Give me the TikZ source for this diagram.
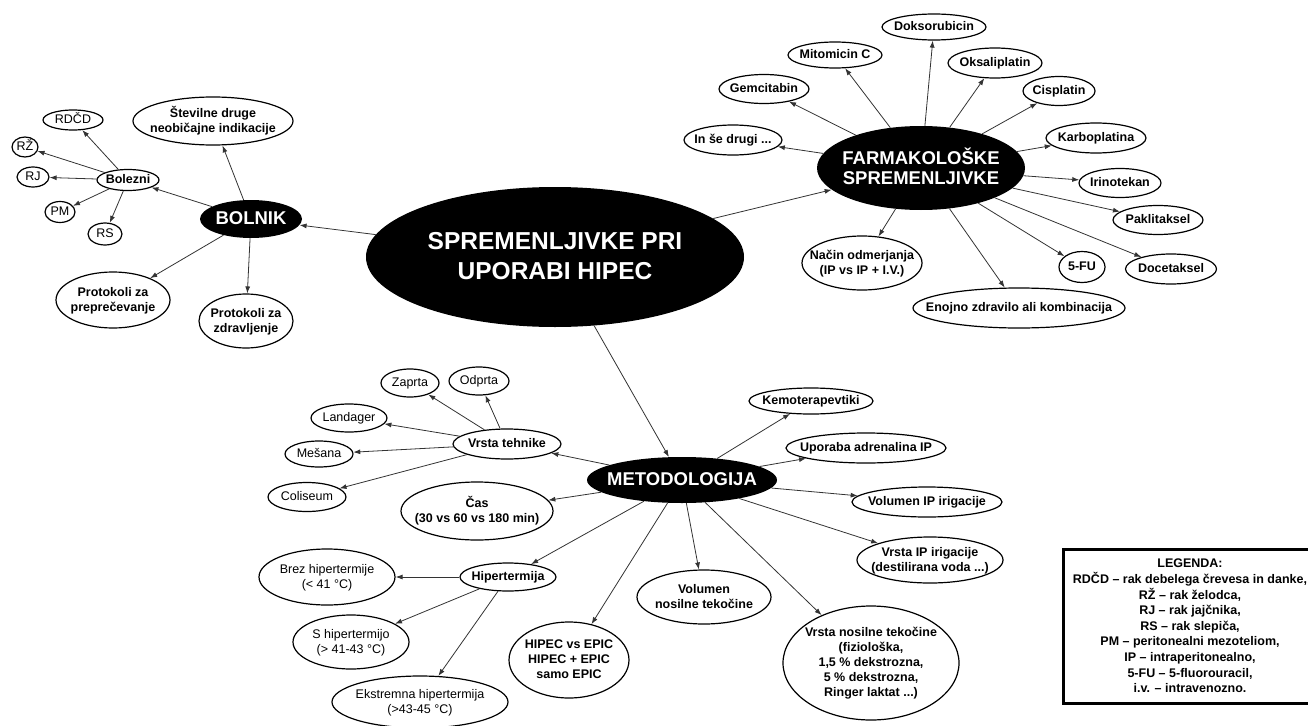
\documentclass[tikz,border=0pt]{standalone}
\usepackage{fontspec}
\setmainfont{Liberation Sans}
\usetikzlibrary{shapes,arrows.meta}

\tikzset{
  every node/.style={font=\fontsize{12.5}{15}\selectfont},
  b/.style={font=\fontsize{12.5}{15}\selectfont\bfseries},
  oval/.style 2 args={ellipse, draw, line width=1.2pt, minimum width=#1pt,
    minimum height=#2pt, inner sep=0pt},
  hub/.style 2 args={ellipse, fill=black, text=white, minimum width=#1pt,
    minimum height=#2pt, inner sep=0pt},
  link/.style={draw=black!80, line width=0.8pt, -{Latex[length=7pt,width=5pt]}},
}

\begin{document}
\begin{tikzpicture}[x=1pt,y=-1pt]
    \def\lbl#1{\makebox[0pt]{\raisebox{-0.3em}[0pt][0pt]{\begin{tabular}{@{}c@{}}#1\end{tabular}}}}
    \useasboundingbox (0,0) rectangle (1308,725);
    \clip (0,0) rectangle (1308,725);
    % Centre and the three hubs
    \node[hub={378}{140}, font=\fontsize{24.5}{30}\selectfont\bfseries] (hipec) at (555,257)
      {\lbl{SPREMENLJIVKE PRI\\UPORABI HIPEC}};
    \node[hub={102}{38}, font=\fontsize{18.5}{20}\selectfont\bfseries] (bolnik) at (251,219) {\lbl{BOLNIK}};
    \node[hub={208}{84}, font=\fontsize{18.5}{20}\selectfont\bfseries] (farma) at (921,168)
      {\lbl{FARMAKOLOŠKE\\SPREMENLJIVKE}};
    \node[hub={190}{46}, font=\fontsize{18.5}{20}\selectfont\bfseries] (metod) at (682,480) {\lbl{METODOLOGIJA}};
    % Bolnik
    \node[oval={62}{21}, b] (bolezni) at (128,180) {\lbl{Bolezni}};
    \node[oval={60}{20}] (rdcd) at (73,120) {\lbl{RDČD}};
    \node[oval={26}{20}] (rz) at (25,147) {\lbl{RŽ}};
    \node[oval={32}{20}] (rj) at (33,177) {\lbl{RJ}};
    \node[oval={30}{21}] (pm) at (60,212) {\lbl{PM}};
    \node[oval={34}{22}] (rs) at (105,234) {\lbl{RS}};
    \node[oval={160}{48}, b] (stevilne) at (213,121) {\lbl{Številne druge\\neobičajne indikacije}};
    \node[oval={114}{56}, b] (preprec) at (113,300) {\lbl{Protokoli za\\preprečevanje}};
    \node[oval={94}{54}, b] (zdrav) at (246,321) {\lbl{Protokoli za\\zdravljenje}};
    % Farmakoloske spremenljivke
    \node[oval={98}{30}, b] (drugi) at (733,140) {\lbl{In še drugi ...}};
    \node[oval={90}{29}, b] (gemc) at (764,89) {\lbl{Gemcitabin}};
    \node[oval={94}{26}, b] (mito) at (835,55) {\lbl{Mitomicin C}};
    \node[oval={104}{26}, b] (doks) at (934,27) {\lbl{Doksorubicin}};
    \node[oval={94}{30}, b] (oksa) at (995,63) {\lbl{Oksaliplatin}};
    \node[oval={72}{29}, b] (cispl) at (1059,91) {\lbl{Cisplatin}};
    \node[oval={100}{30}, b] (karbo) at (1096,138) {\lbl{Karboplatina}};
    \node[oval={82}{29}, b] (irino) at (1120,183) {\lbl{Irinotekan}};
    \node[oval={90}{29}, b] (pakli) at (1158,220) {\lbl{Paklitaksel}};
    \node[oval={46}{31}, b] (fu) at (1082,267) {\lbl{5-FU}};
    \node[oval={91}{30}, b] (doce) at (1171,269) {\lbl{Docetaksel}};
    \node[oval={120}{54}, b] (nacin) at (862,263) {\lbl{Način odmerjanja\\(IP vs IP + I.V.)}};
    \node[oval={212}{40}, b] (enojno) at (1019,308) {\lbl{Enojno zdravilo ali kombinacija}};
    % Metodologija
    \node[oval={124}{26}, b] (kemo) at (811,401) {\lbl{Kemoterapevtiki}};
    \node[oval={160}{30}, b] (adren) at (866,448) {\lbl{Uporaba adrenalina IP}};
    \node[oval={150}{30}, b] (volip) at (927,502) {\lbl{Volumen IP irigacije}};
    \node[oval={146}{46}, b] (vrstaip) at (930,560) {\lbl{Vrsta IP irigacije\\(destilirana voda ...)}};
    \node[oval={176}{114}, b] (vrstanos) at (871,663)
      {\lbl{Vrsta nosilne tekočine\\(fiziološka,\\1,5 \% dekstrozna,\\5 \% dekstrozna,\\Ringer laktat ...)}};
    \node[oval={134}{54}, b] (volnos) at (704,597) {\lbl{Volumen\\nosilne tekočine}};
    \node[oval={120}{76}, b] (epic) at (569,660) {\lbl{HIPEC vs EPIC\\HIPEC + EPIC\\samo EPIC}};
    \node[oval={96}{28}, b] (hiper) at (508,577) {\lbl{Hipertermija}};
    \node[oval={136}{56}] (brez) at (327,577) {\lbl{Brez hipertermije\\(< 41 °C)}};
    \node[oval={116}{54}] (shiper) at (351,642) {\lbl{S hipertermijo\\(> 41-43 °C)}};
    \node[oval={176}{52}] (ekstr) at (420,702) {\lbl{Ekstremna hipertermija\\(>43-45 °C)}};
    \node[oval={152}{58}, b] (cas) at (477,511) {\lbl{Čas\\(30 vs 60 vs 180 min)}};
    \node[oval={108}{30}, b] (tehnika) at (507,444) {\lbl{Vrsta tehnike}};
    \node[oval={58}{28}] (zaprta) at (410,383) {\lbl{Zaprta}};
    \node[oval={60}{28}] (odprta) at (479,381) {\lbl{Odprta}};
    \node[oval={76}{28}] (landa) at (349,418) {\lbl{Landager}};
    \node[oval={68}{26}] (mesana) at (319,454) {\lbl{Mešana}};
    \node[oval={78}{29}] (colis) at (307,497) {\lbl{Coliseum}};
    % Legend
    \node[draw, line width=3pt, minimum width=254pt, minimum height=154pt, inner sep=0pt,
      align=center, font=\fontsize{12.5}{15.6}\selectfont\bfseries] (legenda) at (1190,626)
      {LEGENDA:\\RDČD – rak debelega črevesa in danke,\\RŽ – rak želodca,\\RJ – rak jajčnika,\\
       RS – rak slepiča,\\PM – peritonealni mezoteliom,\\IP – intraperitonealno,\\
       5-FU – 5-fluorouracil,\\i.v. – intravenozno.};
    % Draw connectors
    \foreach \src/\dst in {hipec/bolnik, hipec/farma, hipec/metod,
      bolnik/bolezni, bolnik/stevilne, bolnik/preprec, bolnik/zdrav,
      bolezni/rdcd, bolezni/rz, bolezni/rj, bolezni/pm, bolezni/rs} {
      \draw[link] (\src) -- (\dst);
    }
    \foreach \dst in {drugi, gemc, mito, doks, oksa, cispl, karbo, irino,
      pakli, fu, doce, nacin, enojno} {
      \draw[link] (farma) -- (\dst);
    }
    \foreach \dst in {kemo, adren, volip, vrstaip, vrstanos, volnos, epic,
      hiper, cas, tehnika} {
      \draw[link] (metod) -- (\dst);
    }
    \foreach \dst in {zaprta, odprta, landa, mesana, colis} {
      \draw[link] (tehnika) -- (\dst);
    }
    \foreach \dst in {brez, shiper, ekstr} {
      \draw[link] (hiper) -- (\dst);
    }
\end{tikzpicture}
\end{document}
